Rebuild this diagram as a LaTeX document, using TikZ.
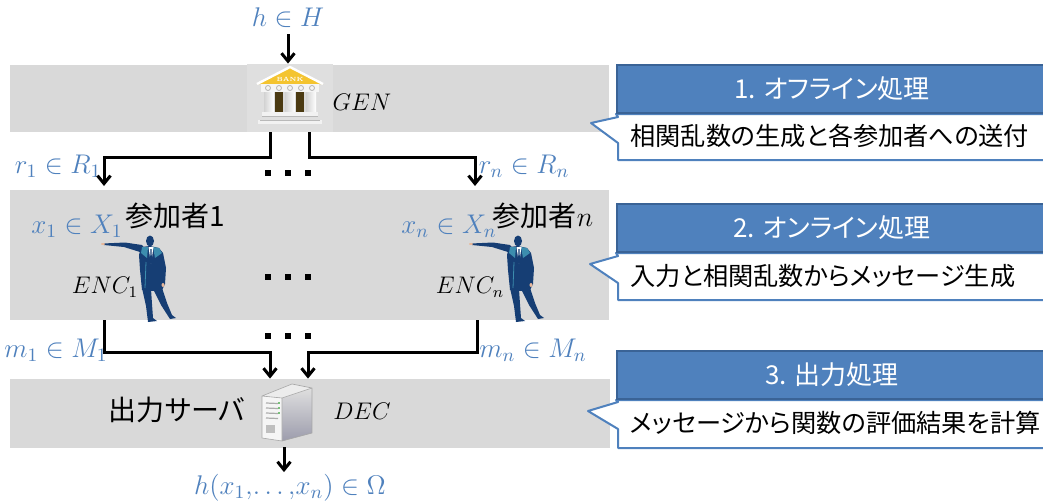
\RequirePackage{fix-cm}
\documentclass[tikz,border=0pt]{standalone}
\usepackage{fontspec}
\usepackage{amsmath}
\usepackage{tikz}
\usetikzlibrary{arrows.meta}
\newfontfamily\jp[RawFeature=+palt]{Noto Sans CJK JP}

\definecolor{bandgray}{HTML}{D9D9D9}
\definecolor{setblue}{HTML}{4F81BD}
\definecolor{stageblue}{HTML}{4F81BD}
\definecolor{stageedge}{HTML}{3A6396}
\definecolor{suit}{HTML}{163E74}
\definecolor{suitlight}{HTML}{3C8DAE}
\definecolor{skin}{HTML}{E8B89A}
\definecolor{bankgold}{HTML}{F4C430}
\definecolor{bankdark}{HTML}{4B3A12}
\definecolor{towerside}{HTML}{9C9CAC}

\tikzset{
  band/.style={fill=bandgray},
  setlabel/.style={text=setblue, font=\fontsize{13.5}{15}\selectfont, inner sep=1pt},
  party/.style={font=\fontsize{12}{14}\selectfont, inner sep=1pt},
  jlabel/.style={font=\jp\fontsize{14}{16}\selectfont, inner sep=1pt},
  flow/.style={line width=1.5pt, -{Straight Barb[length=4pt,width=6.5pt]}},
  stagehead/.style={fill=stageblue, draw=stageedge, line width=1pt, minimum width=215pt,
    minimum height=24pt, inner sep=0pt, text=white, font=\jp\fontsize{13}{15}\selectfont},
  stagebody/.style={fill=white, draw=stageblue, line width=1pt, line join=round},
  stagenote/.style={anchor=west, font=\jp\fontsize{12.6}{15}\selectfont, inner sep=0pt},
}

\begin{document}
\begin{tikzpicture}[x=0.5pt, y=-0.5pt]
  \useasboundingbox (0,0) rectangle (1043,503);

  % three stages
  \fill[band] (10,65) rectangle (609,132);
  \fill[band] (10,190) rectangle (609,320);
  \fill[band] (10,379) rectangle (610,448);

  \node[setlabel] (hin) at (288,18) {$h\in H$};
  \node[fill={rgb,255:red,223;green,223;blue,223}, minimum width=43pt, minimum height=34pt, inner sep=0pt] (gen) at (290,98) {};
  \node[party] (gname) at (362,102) {$GEN$};

  \node[setlabel] (r1) at (58,166) {$r_1\in R_1$};
  \node[setlabel] (rn) at (524,166) {$r_n\in R_n$};

  \node[setlabel] (x1) at (77,226) {$x_1\in X_1$};
  \node[setlabel] (xn) at (449,226) {$x_n\in X_n$};
  \node[jlabel] (u1) at (175,216) {参加者1};
  \node[jlabel] (un) at (543,216) {参加者$n$};
  \node[party] (e1) at (105,287) {$ENC_1$};
  \node[party] (en) at (470,287) {$ENC_n$};

  \node[setlabel] (m1) at (56,350) {$m_1\in M_1$};
  \node[setlabel] (mn) at (533,350) {$m_n\in M_n$};

  \node[jlabel] (srv) at (177,410) {出力サーバ};
  \node[minimum width=29pt, minimum height=34pt, inner sep=0pt] (dec) at (287,413) {};
  \node[party] (dname) at (362,411) {$DEC$};
  \node[setlabel] (hout) at (290,488) {$h(x_1,\!\ldots,\!x_n)\in\Omega$};

  \coordinate (a1) at (104,186);
  \coordinate (an) at (475,186);
  \coordinate (b1) at (104,320);
  \coordinate (bn) at (477,320);

  % bank
  \begin{scope}[shift={(gen.center)}]
    \fill[bankgold] (0,-31) -- (33,-14) -- (-33,-14) -- cycle;
    \draw[white, line width=1.2pt, line join=round] (-33,-14) -- (0,-31) -- (33,-14);
    \node[font=\fontsize{3}{3}\selectfont\bfseries, text=white, inner sep=0pt] (bankword) at (0,-19) {BANK};
    \fill[gray!30] (-26,-6) rectangle (26,14);
    \foreach \c in {-11,10} \fill[bankdark] (\c-4,-6) rectangle (\c+4,14);
    \foreach \c in {-21,0,21}
      \shade[left color=gray!35, right color=white] (\c-5,-6) rectangle (\c+5,14);
    \fill[gray!8] (-29,-14) rectangle (29,-6);
    \foreach \c in {-22,-11,0,11,22} \draw[gray!60, line width=0.4pt] (\c,-10) circle (2.5);
    \fill[gray!10] (-28,14) rectangle (28,18);
    \fill[gray!25] (-30,18) rectangle (30,22);
    \fill[gray!10] (-32,22) rectangle (32,26);
    \draw[gray!55, line width=0.3pt] (-28,18) -- (28,18) (-30,22) -- (30,22);
  \end{scope}

  % participants
  \foreach \dx in {0,368} {
    \begin{scope}[shift={(\dx,0)}]
      \fill[suit] (103,243.5) -- (125,242.5) -- (142,245) -- (146,250) -- (140,252) -- (124,247) -- (104,245) -- cycle;
      \fill[skin] (103,244) ellipse (2 and 1);
      \fill[suit] (150,241) ellipse (4 and 5.5);
      \fill[suit] (141,247) -- (150,246) -- (159,248) -- (163,253) -- (166,268) -- (165,284)
        -- (162,290) -- (152,291) -- (142,290) -- (140,270) -- (139,255) -- cycle;
      \fill[suitlight] (142,247) -- (148,247) -- (147,258) -- (141,253) -- cycle;
      \fill[suitlight] (153,247) -- (159,248) -- (162,253) -- (155,258) -- cycle;
      \fill[white] (148.5,247) -- (153.5,247) -- (151,264) -- cycle;
      \fill[suit] (150.5,249) -- (151.5,249) -- (152,262) -- (151,266) -- (150,262) -- cycle;
      \fill[suit] (142,288) -- (151,289) -- (152,304) -- (153,318) -- (157,321) -- (148,322) -- (146,306) -- cycle;
      \fill[suit] (153,289) -- (162,288) -- (167,303) -- (172,315) -- (176,318) -- (170,319) -- (161,305) -- cycle;
      \fill[skin] (163,285) ellipse (1.5 and 2);
      \draw[suitlight, line width=0.4pt] (146,262) -- (145,288);
    \end{scope}
  }

  % server
  \begin{scope}[shift={(dec.center)}]
    \shade[top color=gray!25, bottom color=towerside] (-5,-15) -- (25,-25) -- (25,20) -- (-5,28) -- cycle;
    \fill[gray!15] (-25,-17) -- (5,-29) -- (25,-25) -- (-5,-15) -- cycle;
    \fill[gray!8] (-25,-17) -- (-5,-15) -- (-5,28) -- (-25,25) -- cycle;
    \draw[gray!70, line width=0.3pt, line join=round] (-25,-17) -- (5,-29) -- (25,-25) -- (25,20) -- (-5,28) -- (-25,25) -- cycle
      (-25,-17) -- (-5,-15) -- (25,-25) (-5,-15) -- (-5,28);
    \foreach \s in {-10,-5,0,5} \draw[gray!65, line width=0.6pt] (-21,\s) -- (-9,\s+0.5);
    \foreach \s in {-10,-5,0} \fill[green!55!black] (-8,\s) circle (0.8);
    \fill[gray!50] (-21,12) rectangle (-12,20);
  \end{scope}

  % flows
  \draw[flow, shorten <=2pt] (hin.south) -- (hin.south |- gen.north);
  \draw[flow] ([xshift=-10pt]gen.south) -- ++(0,25) -| (a1);
  \draw[flow] ([xshift=9.5pt]gen.south) -- ++(0,25) -| (an);
  \draw[flow] (b1) -- ++(0,32) -| ([xshift=-8.5pt]dec.north);
  \draw[flow] (bn) -- ++(0,32) -| ([xshift=10.5pt]dec.north);
  \draw[flow] ([xshift=-1.5pt]dec.south) -- ([xshift=-1.5pt]dec.south |- hout.north);

  \foreach \y in {173,277,336}
    \foreach \x in {268,288,308}
      \fill (\x-3,\y-3) rectangle ++(6,6);

  % stage notes
  \node[stagehead] (hd1) at (832,89) {1. オフライン処理};
  \node[stagehead] (hd2) at (832,228) {2. オンライン処理};
  \node[stagehead] (hd3) at (832,375) {3. 出力処理};

  \draw[stagebody] (hd1.south west) -- (hd1.south east) -- ++(0,46) -- ++(-430,0) -- ++(0,-17) -- ++(-27,-20) -- ++(27,-6) -- cycle;
  \draw[stagebody] (hd2.south west) -- (hd2.south east) -- ++(0,47) -- ++(-430,0) -- ++(0,-17) -- ++(-28,-19) -- ++(28,-8) -- cycle;
  \draw[stagebody] (hd3.south west) -- (hd3.south east) -- ++(0,48) -- ++(-430,0) -- ++(0,-19) -- ++(-30,-18) -- ++(30,-9) -- cycle;
  \node[stagehead] at (hd1) {1. オフライン処理};
  \node[stagehead] at (hd2) {2. オンライン処理};
  \node[stagehead] at (hd3) {3. 出力処理};

  \node[stagenote] (nt1) at (630,136) {相関乱数の生成と各参加者への送付};
  \node[stagenote] (nt2) at (630,276) {入力と相関乱数からメッセージ生成};
  \node[stagenote] (nt3) at (630,423) {メッセージから関数の評価結果を計算};
\end{tikzpicture}
\end{document}
